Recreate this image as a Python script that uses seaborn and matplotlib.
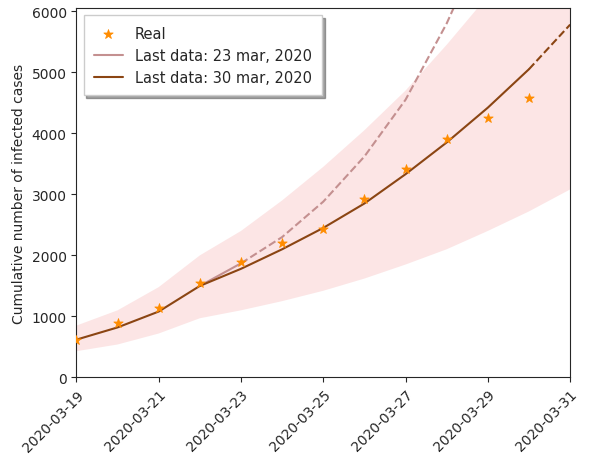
import numpy as np
import pandas as pd
import matplotlib
matplotlib.use("Agg")
import matplotlib.pyplot as plt
import seaborn as sns

sns.set_style("ticks")
plt.rcParams['font.family'] = ['DejaVu Sans']

days = pd.date_range("2020-03-19", "2020-03-31")
real_days = pd.date_range("2020-03-19", "2020-03-30")
real = [620, 900, 1130, 1540, 1890, 2200, 2440, 2920, 3420, 3900, 4250, 4580]

# model fitted up to 30 mar
fit30 = [620, 820, 1080, 1500, 1780, 2100, 2450, 2850, 3330, 3850, 4420, 5050, 5780]
upper = [850, 1100, 1480, 2000, 2400, 2900, 3450, 4050, 4700, 5450, 6250, 7100, 8000]
lower = [430, 540, 720, 970, 1100, 1250, 1420, 1620, 1850, 2100, 2400, 2720, 3080]

# model fitted up to 23 mar
days23 = pd.date_range("2020-03-22", "2020-03-29")
fit23 = [1500, 1870, 2300, 2880, 3620, 4550, 5800, 7300]

fig, ax = plt.subplots(figsize=(5.97, 4.56), dpi=100)
ax.fill_between(days, lower, upper, color="#f08080", alpha=0.2, linewidth=0)
sns.lineplot(x=days23[:2], y=fit23[:2], color="#c49090", ax=ax, label="Last data: 23 mar, 2020")
sns.lineplot(x=days23[1:], y=fit23[1:], color="#c49090", ls="--", ax=ax)
sns.lineplot(x=days[:12], y=fit30[:12], color="#8b4513", ax=ax, label="Last data: 30 mar, 2020")
sns.lineplot(x=days[11:], y=fit30[11:], color="#8b4513", ls="--", ax=ax)
sns.scatterplot(x=real_days, y=real, marker="*", s=50, color="darkorange",
                edgecolor="darkorange", ax=ax, label="Real", zorder=5)

h, l = ax.get_legend_handles_labels()
order = [l.index("Real"), l.index("Last data: 23 mar, 2020"), l.index("Last data: 30 mar, 2020")]
ax.legend([h[i] for i in order], [l[i] for i in order], loc="upper left",
          shadow=True, fancybox=False, fontsize=10.5, borderpad=0.7)

ax.set_xlim(days[0], days[-1])
ax.set_ylim(0, 6050)
ax.set_xticks(pd.date_range("2020-03-19", "2020-03-31", freq="2D"))
ax.xaxis.set_major_formatter(matplotlib.dates.DateFormatter("%Y-%m-%d"))
plt.setp(ax.get_xticklabels(), rotation=45, ha="right", rotation_mode="anchor")
ax.set_ylabel("Cumulative number of infected cases")
fig.subplots_adjust(left=0.128, right=0.955, top=0.98, bottom=0.17)
fig.savefig("out.png")
